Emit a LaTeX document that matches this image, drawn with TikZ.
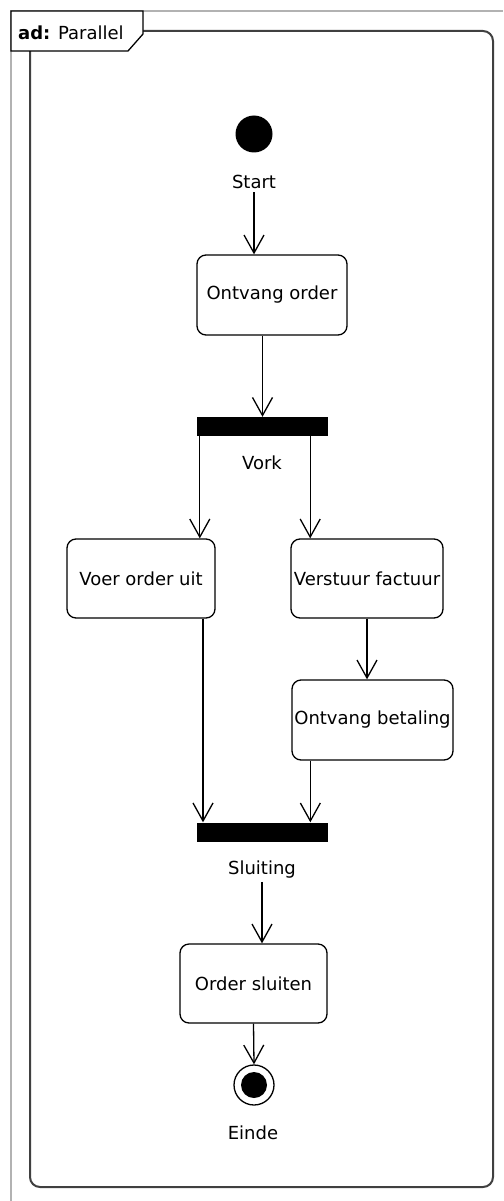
\documentclass[tikz,border=0pt]{standalone}
\usepackage{fontspec}
\setmainfont{DejaVu Sans}
\usetikzlibrary{arrows.meta, positioning}

\begin{document}
\begin{tikzpicture}[x=1pt, y=-1pt]
\tikzset{
  act/.style={draw, line width=1.3pt, rounded corners=9pt, minimum width=#1, minimum height=80pt, inner sep=0pt, font=\fontsize{18}{21}\selectfont},
  act/.default=150pt,
  bar/.style={fill=black, inner sep=0pt, minimum width=131pt, minimum height=19pt},
  lbl/.style={inner sep=3pt, font=\fontsize{18}{21}\selectfont},
  flow/.style={line width=1.3pt, -{Straight Barb[length=18pt, width=20pt, line width=1.3pt]}}
}
\useasboundingbox (0,0) rectangle (503,1201);

\draw[gray!60, line width=1.5pt] (11,1201) -- (11,11) -- (503,11);
\draw[black!75, line width=2pt, rounded corners=10pt] (143,31) -- (493,31) -- (493,1187) -- (30,1187) -- (30,51);
\draw[fill=white, line width=1.3pt] (11,11) -- (143,11) -- (143,34) -- (128,51) -- (11,51) -- cycle;
\node[anchor=west, inner sep=0pt, font=\fontsize{18}{21}\selectfont] (kop) at (18,32.5) {\textbf{ad:} Parallel};

\node[circle, fill=black, minimum size=37pt, inner sep=0pt] (start) at (254,134) {};
\node[lbl] (startlbl) at (254,182) {Start};
\node[act=150pt] (ontvang) at (272,295) {Ontvang order};
\node[bar] (vork) at (262.5,426.5) {};
\node[lbl] (vorklbl) at (262,463) {Vork};
\node[act=148pt, minimum height=79pt] (voer) at (141,578.5) {Voer order uit};
\node[act=152pt, minimum height=79pt] (verstuur) at (367,578.5) {Verstuur factuur};
\node[act=161pt] (betaling) at (372.5,720) {Ontvang betaling};
\node[bar] (sluiting) at (262.5,832) {};
\node[lbl] (sluitlbl) at (262,870) {Sluiting};
\node[act=147pt, minimum height=79pt] (sluiten) at (253.5,983.5) {Order sluiten};
\node[circle, draw, line width=1.3pt, minimum size=40pt, inner sep=0pt] (einde) at (254,1085) {};
\node[circle, fill=black, minimum size=26pt, inner sep=0pt] (eindedot) at (einde) {};
\node[lbl] (eindelbl) at (253,1133) {Einde};

\draw[flow] (startlbl.south) -- (startlbl.south |- ontvang.north);
\draw[flow] (ontvang.south -| vork.north) -- (vork.north);
\draw[flow] ([xshift=3pt]vork.south west) -- ([xshift=3pt]vork.south west |- voer.north);
\draw[flow] ([xshift=-18pt]vork.south east) -- ([xshift=-18pt]vork.south east |- verstuur.north);
\draw[flow] (verstuur.south) -- (verstuur.south |- betaling.north);
\draw[flow] ([xshift=62pt]voer.south) -- ([xshift=62pt]voer.south |- sluiting.north);
\draw[flow] ([xshift=19pt]betaling.south west) -- ([xshift=19pt]betaling.south west |- sluiting.north);
\draw[flow] (sluitlbl.south) -- (sluitlbl.south |- sluiten.north);
\draw[flow] (sluiten.south) -- (einde.north);
\end{tikzpicture}
\end{document}
